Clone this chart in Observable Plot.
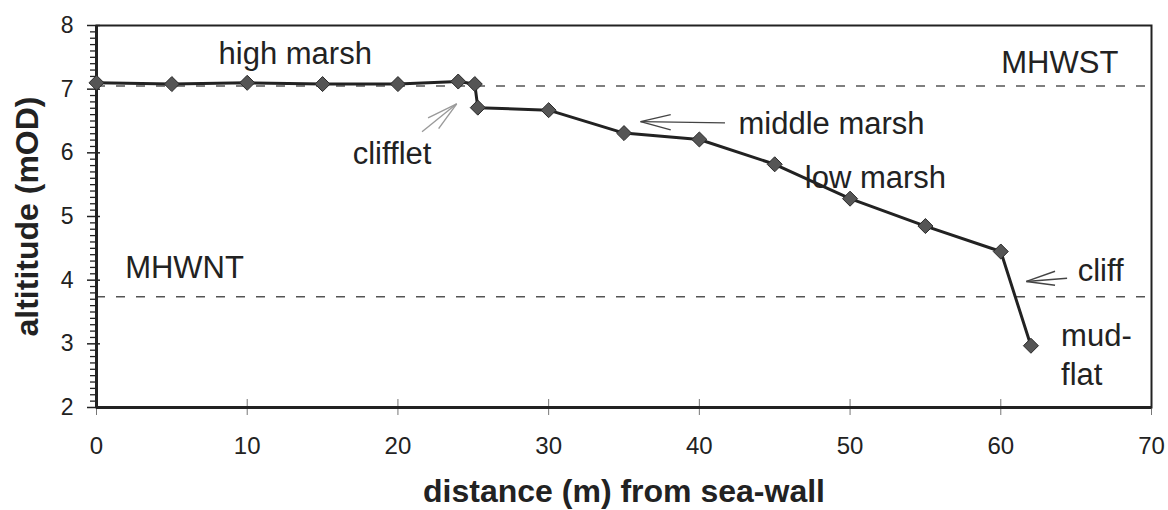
<!DOCTYPE html>
<html><head><meta charset="utf-8">
<script src="https://cdn.jsdelivr.net/npm/d3@7"></script>
<script src="https://cdn.jsdelivr.net/npm/@observablehq/plot@0.6"></script>
<style>body{margin:0;background:#fff}</style>
</head><body><div id="chart"></div>
<script>
// Profile: distance (m) from sea-wall vs altitude (mOD)
const distance = [0, 5, 10, 15, 20, 24, 25.1, 25.3, 30, 35, 40, 45, 50, 55, 60, 62];
const altitude = [7.10, 7.08, 7.10, 7.08, 7.08, 7.12, 7.08, 6.71, 6.67, 6.31, 6.21, 5.82, 5.28, 4.85, 4.45, 2.97];

// Tide levels
const levelNames = ["MHWST", "MHWNT"];
const levelValues = [7.05, 3.74];

// Axis ticks
const xTicks = [0, 10, 20, 30, 40, 50, 60, 70];
const yTicks = [2, 3, 4, 5, 6, 7, 8];
const yMinorTicks = [2.1,2.2,2.3,2.4,2.5,2.6,2.7,2.8,2.9,3.1,3.2,3.3,3.4,3.5,3.6,3.7,3.8,3.9,4.1,4.2,4.3,4.4,4.5,4.6,4.7,4.8,4.9,5.1,5.2,5.3,5.4,5.5,5.6,5.7,5.8,5.9,6.1,6.2,6.3,6.4,6.5,6.6,6.7,6.8,6.9,7.1,7.2,7.3,7.4,7.5,7.6,7.7,7.8,7.9];

// Annotations (text)
const noteText   = ["high marsh", "MHWST", "MHWNT", "clifflet", "middle marsh", "low marsh", "cliff", "mud-", "flat"];
const noteX      = [8.1, 67.8, 1.9, 17.0, 42.6, 47.0, 65.1, 64.0, 64.0];
const noteY      = [7.40, 7.26, 4.04, 5.83, 6.30, 5.45, 3.99, 2.96, 2.36];
const noteAnchor = ["start", "end", "start", "start", "start", "start", "start", "start", "start"];

// Annotation arrows: tail, tip and two barb ends
const arrowColor = ["#9a9a9a", "#444", "#444"];
const arrowTailX = [21.6, 41.7, 64.4];
const arrowTailY = [6.33, 6.47, 4.03];
const arrowTipX  = [23.9, 36.1, 61.7];
const arrowTipY  = [6.77, 6.49, 3.98];
const barbAX     = [22.0, 38.1, 63.6];
const barbAY     = [6.55, 6.60, 4.14];
const barbBX     = [22.7, 38.1, 63.6];
const barbBY     = [6.38, 6.36, 3.92];

const segments = [];
arrowColor.forEach((c, i) => {
  segments.push({x1: arrowTailX[i], y1: arrowTailY[i], x2: arrowTipX[i], y2: arrowTipY[i], c});
  segments.push({x1: barbAX[i], y1: barbAY[i], x2: arrowTipX[i], y2: arrowTipY[i], c});
  segments.push({x1: barbBX[i], y1: barbBY[i], x2: arrowTipX[i], y2: arrowTipY[i], c});
});

const notes = noteText.map((t, i) => ({t, x: noteX[i], y: noteY[i], a: noteAnchor[i]}));
const levels = levelNames.map((n, i) => ({n, v: levelValues[i]}));

const diamond = {
  draw(ctx, size) {
    const h = Math.sqrt(size / 2);
    ctx.moveTo(0, -h); ctx.lineTo(h, 0); ctx.lineTo(0, h); ctx.lineTo(-h, 0); ctx.closePath();
  }
};

const ink = "#222";
const chart = Plot.plot({
  width: 1168, height: 510,
  marginLeft: 96, marginRight: 17, marginTop: 25, marginBottom: 103,
  x: {domain: [0, 70]},
  y: {domain: [2, 8]},
  style: {fontFamily: "'Liberation Sans', Arial, sans-serif", background: "#fff", color: ink, overflow: "visible"},
  marks: [
    Plot.ruleY(levels, {y: "v", stroke: "#555", strokeWidth: 1.5, strokeDasharray: "9,11"}),
    Plot.axisY({ticks: yMinorTicks, tickSize: 6, tickFormat: () => "", label: null, stroke: ink, strokeWidth: 1.3}),
    Plot.axisY({ticks: yTicks, tickSize: 13, dx: 4, tickFormat: () => "", label: null, stroke: ink, strokeWidth: 1.5}),
    Plot.axisX({ticks: xTicks, tickSize: 16, dy: -8, tickFormat: () => "", label: null, stroke: "#777", strokeWidth: 1}),
    Plot.text(yTicks, {y: d => d, text: d => String(d), frameAnchor: "left", textAnchor: "end", dx: -23, lineAnchor: "middle", fontSize: 23, fill: ink}),
    Plot.text(xTicks, {x: d => d, text: d => String(d), frameAnchor: "bottom", textAnchor: "middle", dy: 29, lineAnchor: "top", fontSize: 24, fill: ink}),
    Plot.frame({stroke: ink, strokeWidth: 2}),
    Plot.ruleX([0], {stroke: ink, strokeWidth: 3}),
    Plot.ruleY([2], {stroke: ink, strokeWidth: 3}),
    Plot.link(segments, {x1: "x1", y1: "y1", x2: "x2", y2: "y2", stroke: "c", strokeWidth: 1.4}),
    Plot.line(distance, {x: distance, y: altitude, stroke: ink, strokeWidth: 3}),
    Plot.dot(distance, {x: distance, y: altitude, symbol: diamond, r: 6, fill: "#555", stroke: "#2a2a2a", strokeWidth: 1}),
    Plot.text(notes.filter(d => d.a === "start"), {x: "x", y: "y", text: "t", textAnchor: "start", lineAnchor: "bottom", fontSize: 31, fill: ink}),
    Plot.text(notes.filter(d => d.a === "end"), {x: "x", y: "y", text: "t", textAnchor: "end", lineAnchor: "bottom", fontSize: 31, fill: ink}),
    Plot.text(["distance (m) from sea-wall"], {text: d => d, frameAnchor: "bottom", textAnchor: "middle", dy: 94, lineAnchor: "bottom", fontSize: 32, fontWeight: "bold", fill: ink}),
    Plot.text(["altititude (mOD)"], {text: d => d, frameAnchor: "left", textAnchor: "middle", dx: -69, rotate: -90, lineAnchor: "middle", fontSize: 32, fontWeight: "bold", fill: ink})
  ]
});
document.getElementById("chart").appendChild(chart);
</script>
</body></html>
